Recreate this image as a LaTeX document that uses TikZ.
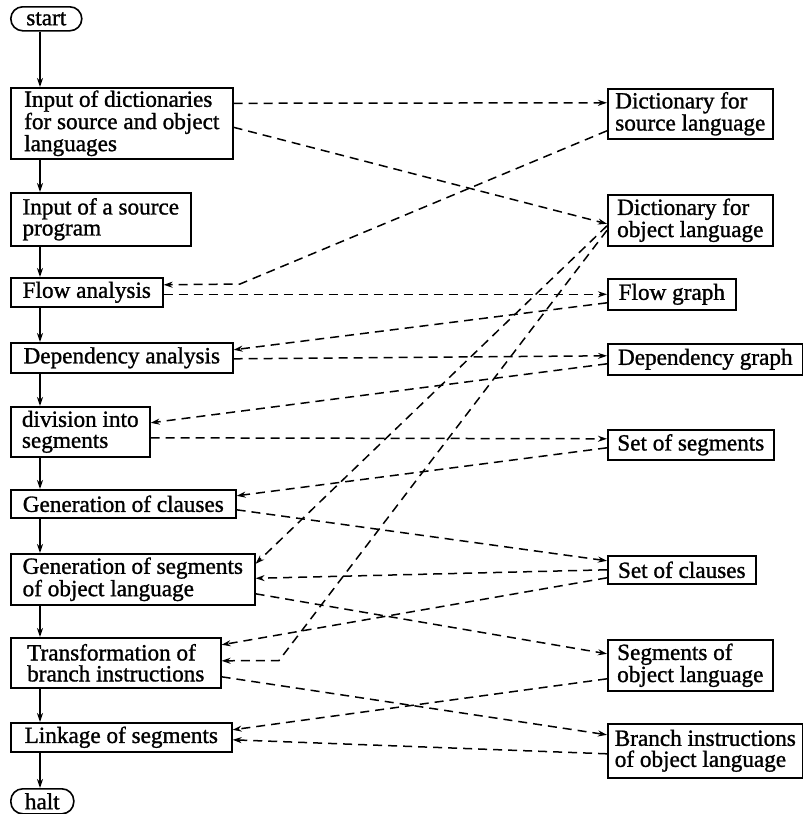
\documentclass[tikz,border=0pt]{standalone}
\usepackage{fontspec}
\setmainfont{Liberation Serif}
\newfontfamily\boxfont[FakeBold=1.2]{Liberation Serif}
\usetikzlibrary{arrows.meta}

\begin{document}
\begin{tikzpicture}[x=1pt,y=-1pt,
  >={Stealth[length=9pt,width=6pt]},
  box/.style={draw,line width=1.6pt,anchor=north west,align=left,inner xsep=3pt,inner ysep=2pt,
    font=\boxfont\fontsize{23.2}{21}\selectfont},
  term/.style={box,rounded corners=12pt},
  flowline/.style={->,line width=1.5pt},
  dataline/.style={->,line width=1.5pt,dash pattern=on 9pt off 6pt}]

\useasboundingbox (0,0) rectangle (803,814);

% Program steps
\node[term,minimum width=71pt,minimum height=24pt] (start) at (10,6) {start};
\node[box,minimum width=222pt,minimum height=71pt] (in1) at (10,87) {Input of dictionaries\\for source and object\\languages};
\node[box,minimum width=180pt,minimum height=53pt] (in2) at (10,192) {Input of a source\\program};
\node[box,minimum width=152pt,minimum height=29pt] (flow) at (10,277) {Flow analysis};
\node[box,minimum width=222pt,minimum height=30pt] (dep) at (10,342) {Dependency analysis};
\node[box,minimum width=139pt,minimum height=50pt] (div) at (10,406) {division into\\segments};
\node[box,minimum width=225pt,minimum height=28pt] (genc) at (10,489) {Generation of clauses};
\node[box,minimum width=244pt,minimum height=51pt] (gens) at (10,553) {Generation of segments\\of object language};
\node[box,minimum width=210pt,minimum height=50pt] (trans) at (10,637) {Transformation of\\branch instructions};
\node[box,minimum width=221pt,minimum height=29pt] (link) at (10,722) {Linkage of segments};
\node[term,minimum width=63pt,minimum height=25pt] (halt) at (10,788) {halt};

% Data
\node[box,minimum width=165pt,minimum height=50pt] (dsrc) at (607,88) {Dictionary for\\source language};
\node[box,minimum width=165pt,minimum height=51pt] (dobj) at (607,194) {Dictionary for\\object language};
\node[box,minimum width=128pt,minimum height=31pt] (fgraph) at (607,278) {Flow graph};
\node[box,minimum width=195pt,minimum height=31pt] (dgraph) at (607,343) {Dependency graph};
\node[box,minimum width=166pt,minimum height=30pt] (sseg) at (607,429) {Set of segments};
\node[box,minimum width=148pt,minimum height=28pt] (scl) at (607,555) {Set of clauses};
\node[box,minimum width=165pt,minimum height=51pt] (sobj) at (607,639) {Segments of\\object language};
\node[box,minimum width=195pt,minimum height=54pt] (bobj) at (607,723) {Branch instructions\\of object language};

% Control flow
\foreach \a/\b in {start/in1,in1/in2,in2/flow,flow/dep,dep/div,div/genc,genc/gens,gens/trans,trans/link,link/halt}
  \draw[flowline] ([xshift=30pt]\a.south west) -- ([xshift=30pt]\b.north west);

% Bends
\coordinate (b1) at (240,284);
\coordinate (b2) at (279,660.5);

% Data flow
\draw[dataline] ([yshift=20pt]in1.east) -- ([yshift=11pt]dsrc.west);
\draw[dataline] ([yshift=-4pt]in1.east) -- ([yshift=-3.5pt]dobj.west);
\draw[dataline] ([yshift=-17pt]dsrc.west) -- (b1) -- ([yshift=7.5pt]flow.east);
\draw[dataline] ([yshift=-2pt]flow.east) -- (fgraph.west);
\draw[dataline] ([yshift=-8.5pt]fgraph.west) -- ([yshift=8pt]dep.east);
\draw[dataline] ([yshift=-1pt]dep.east) -- ([yshift=3.5pt]dgraph.west);
\draw[dataline] ([yshift=-4.5pt]dgraph.west) -- ([yshift=9pt]div.east);
\draw[dataline] ([yshift=-6pt]div.east) -- ([yshift=6pt]sseg.west);
\draw[dataline] ([yshift=-3pt]sseg.west) -- ([yshift=8pt]genc.east);
\draw[dataline] ([yshift=-6pt]genc.east) -- ([yshift=9pt]scl.west);
\draw[dataline] (scl.west) -- ([yshift=1pt]gens.east);
\draw[dataline] ([yshift=-8pt]scl.west) -- ([yshift=18pt]trans.east);
\draw[dataline] ([yshift=-5.5pt]dobj.west) -- ([yshift=15.5pt]gens.east);
\draw[dataline] ([yshift=-10pt]dobj.west) -- (b2) -- ([yshift=2pt]trans.east);
\draw[dataline] ([yshift=-14.5pt]gens.east) -- ([yshift=11.5pt]sobj.west);
\draw[dataline] ([yshift=-14pt]trans.east) -- ([yshift=16pt]bobj.west);
\draw[dataline] ([yshift=-13.5pt]sobj.west) -- ([yshift=7.5pt]link.east);
\draw[dataline] ([yshift=-3pt]bobj.west) -- ([yshift=-2.5pt]link.east);
\end{tikzpicture}
\end{document}
